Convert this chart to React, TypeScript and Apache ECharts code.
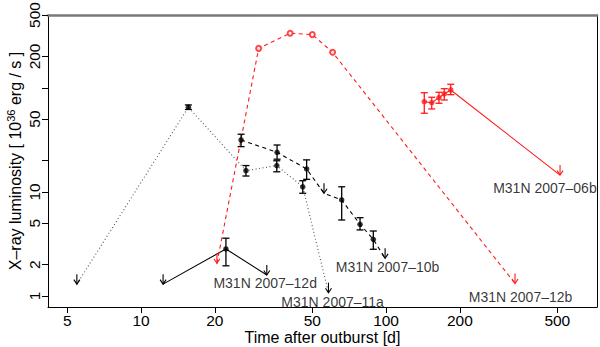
import React, { useEffect, useRef } from 'react';
import * as echarts from 'echarts';

// ---- axes ----
const xTickValues = [5, 10, 20, 50, 100, 200, 500];
const yTickValues = [1, 2, 5, 10, 20, 50, 100, 200, 500];
const yLabelValues = [1, 2, 5, 10, 50, 200, 500];
const xRange = [4.17, 726];
const yRange = [0.784, 500];

// ---- M31N 2007-11a (black, dotted) ----
const n11aT = [15.6, 26.8, 35.8, 45.7];
const n11aL = [65.0, 16.0, 17.9, 11.2];
const n11aLo = [61.9, 14.2, 15.6, 9.7];
const n11aHi = [68.4, 17.9, 19.9, 12.8];
const n11aUlT = [5.47, 58.2];
const n11aUlL = [1.3, 1.076];

// ---- M31N 2007-10b (black, dashed) ----
const n10bT = [25.6, 35.9, 47.4, 65.9, 78.3, 88.7];
const n10bL = [31.5, 24.0, 16.6, 8.36, 4.88, 3.5];
const n10bLo = [27.2, 20.6, 13.2, 5.37, 4.31, 2.81];
const n10bHi = [35.8, 28.2, 20.3, 11.2, 5.65, 4.21];
const n10bUlT = [55.8, 99.1];
const n10bUlL = [9.69, 2.3];

// ---- M31N 2007-12d (black, solid) ----
const n12dT = [22.2];
const n12dL = [2.83];
const n12dLo = [1.95];
const n12dHi = [3.59];
const n12dUlT = [12.3, 32.6];
const n12dUlL = [1.3, 1.59];

// ---- M31N 2007-12b (red, dashed, open circles) ----
const n12bT = [30.2, 40.6, 50.0, 60.5];
const n12bL = [239, 334, 324, 219];
const n12bUlT = [20.4, 336];
const n12bUlL = [2.06, 1.32];

// ---- M31N 2007-06b (red, solid) ----
const n06bT = [143.2, 153.6, 164.4, 172.8, 183.6];
const n06bL = [73.5, 71.9, 80.4, 87.2, 95.2];
const n06bLo = [56.9, 62.6, 71.0, 76.3, 85.9];
const n06bHi = [89.7, 81.1, 90.5, 98.0, 108.1];
const n06bUlT = [513];
const n06bUlL = [14.5];

// ---- annotation labels ----
const labelNames = ['M31N 2007–06b', 'M31N 2007–12b', 'M31N 2007–10b', 'M31N 2007–12d', 'M31N 2007–11a'];
const labelT = [445, 354, 101.4, 32.1, 60.5];
const labelL = [10.9, 0.978, 1.91, 1.32, 0.882];

const lg = (v: number) => Math.log10(v);
const FONT = "'Liberation Sans', Arial, Helvetica, sans-serif";
const RED = '#ff1a1a';
const BLACK = '#000000';
const TICK_FS = 15.5;
const TITLE_FS = 16;

function path(t: number[], l: number[], ut: number[], ul: number[]) {
  const pts: [number, number][] = [];
  t.forEach((v, i) => pts.push([v, l[i]]));
  ut.forEach((v, i) => pts.push([v, ul[i]]));
  pts.sort((a, b) => a[0] - b[0]);
  return pts.map(([a, b]) => [lg(a), lg(b)]);
}

function lineSeries(data: number[][], color: string, type: any) {
  return {
    type: 'line',
    data,
    symbol: 'none',
    lineStyle: { color, width: 1.1, type },
    z: 2,
    silent: true,
  };
}

function errSeries(t: number[], lo: number[], hi: number[], color: string) {
  return {
    type: 'custom',
    data: t.map((v, i) => [lg(v), lg(lo[i]), lg(hi[i])]),
    z: 3,
    silent: true,
    renderItem: (_p: any, api: any) => {
      const x = api.value(0);
      const a = api.coord([x, api.value(1)]);
      const b = api.coord([x, api.value(2)]);
      const w = 3.5;
      const st = { stroke: color, lineWidth: 1.3 };
      return {
        type: 'group',
        children: [
          { type: 'line', shape: { x1: a[0], y1: a[1], x2: b[0], y2: b[1] }, style: st },
          { type: 'line', shape: { x1: a[0] - w, y1: a[1], x2: a[0] + w, y2: a[1] }, style: st },
          { type: 'line', shape: { x1: b[0] - w, y1: b[1], x2: b[0] + w, y2: b[1] }, style: st },
        ],
      };
    },
  };
}

function arrowSeries(t: number[], l: number[], color: string) {
  return {
    type: 'custom',
    data: t.map((v, i) => [lg(v), lg(l[i])]),
    z: 3,
    silent: true,
    renderItem: (_p: any, api: any) => {
      const p = api.coord([api.value(0), api.value(1)]);
      const st = { stroke: color, lineWidth: 1.1, fill: 'none' };
      return {
        type: 'group',
        children: [
          { type: 'line', shape: { x1: p[0], y1: p[1] - 10, x2: p[0], y2: p[1] }, style: st },
          { type: 'polyline', shape: { points: [[p[0] - 3, p[1] - 4.5], [p[0], p[1]], [p[0] + 3, p[1] - 4.5]] }, style: st },
        ],
      };
    },
  };
}

function pointSeries(t: number[], l: number[], color: string, empty = false) {
  return {
    type: 'scatter',
    data: t.map((v, i) => [lg(v), lg(l[i])]),
    symbol: empty ? 'emptyCircle' : 'circle',
    symbolSize: empty ? 5 : 5.5,
    itemStyle: empty ? { color, borderColor: color, borderWidth: 1 } : { color },
    z: 4,
    silent: true,
  };
}

export default function App() {
  const ref = useRef<HTMLDivElement>(null);
  useEffect(() => {
    document.body.style.margin = '0';
    const chart = echarts.init(ref.current!, null, { renderer: 'svg' });
    const axisBase = {
      type: 'value',
      splitLine: { show: false },
    };
    chart.setOption({
      animation: false,
      backgroundColor: '#ffffff',
      textStyle: { fontFamily: FONT },
      grid: { left: 48, right: 3, top: 15, bottom: 40, containLabel: false, outerBoundsMode: 'none' },
      xAxis: [
        {
          ...axisBase,
          min: lg(xRange[0]),
          max: lg(xRange[1]),
          axisLine: { show: true, onZero: false, lineStyle: { color: BLACK, width: 1 } },
          axisTick: { show: true, length: 6, lineStyle: { color: BLACK }, customValues: xTickValues.map(lg) },
          axisLabel: {
            show: true,
            margin: 5,
            fontSize: TICK_FS,
            color: BLACK,
            fontFamily: FONT,
            customValues: xTickValues.map(lg),
            formatter: (v: number) => String(Math.round(Math.pow(10, v))),
          },
          name: 'Time after outburst [d]',
          nameLocation: 'middle',
          nameGap: 22,
          nameMoveOverlap: false,
          nameTextStyle: { fontSize: TITLE_FS, lineHeight: 16, color: BLACK, fontFamily: FONT },
        },
        {
          ...axisBase,
          position: 'top',
          min: lg(xRange[0]),
          max: lg(xRange[1]),
          axisLine: { show: true, onZero: false, lineStyle: { color: '#7a7a7a', width: 2.5 } },
          axisTick: { show: false },
          axisLabel: { show: false },
        },
      ],
      yAxis: [
        {
          ...axisBase,
          min: lg(yRange[0]),
          max: lg(yRange[1]),
          axisLine: { show: true, onZero: false, lineStyle: { color: BLACK, width: 1 } },
          axisTick: { show: true, length: 6, lineStyle: { color: BLACK }, customValues: yTickValues.map(lg) },
          axisLabel: {
            show: true,
            margin: 6,
            rotate: 90,
            fontSize: TICK_FS,
            color: BLACK,
            fontFamily: FONT,
            customValues: yLabelValues.map(lg),
            formatter: (v: number) => String(Math.round(Math.pow(10, v))),
          },
          name: '{n|X–ray luminosity [ 10}{sup|36}{n| erg / s ]}',
          nameLocation: 'middle',
          nameGap: 25,
          nameMoveOverlap: false,
          nameTextStyle: {
            fontSize: TITLE_FS,
            color: BLACK,
            fontFamily: FONT,
            rich: {
              n: { fontSize: TITLE_FS, fontFamily: FONT, color: BLACK, lineHeight: 18, verticalAlign: 'bottom' },
              sup: { fontSize: 11, fontFamily: FONT, color: BLACK, lineHeight: 18, verticalAlign: 'top' },
            },
          },
        },
        {
          ...axisBase,
          position: 'right',
          min: lg(yRange[0]),
          max: lg(yRange[1]),
          axisLine: { show: true, onZero: false, lineStyle: { color: BLACK, width: 1 } },
          axisTick: { show: false },
          axisLabel: { show: false },
        },
      ],
      series: [
        lineSeries(path(n11aT, n11aL, n11aUlT, n11aUlL), '#555', [1, 2.5]),
        lineSeries(path(n10bT, n10bL, n10bUlT, n10bUlL), BLACK, [4, 3.5]),
        lineSeries(path(n12dT, n12dL, n12dUlT, n12dUlL), BLACK, 'solid'),
        lineSeries(path(n12bT, n12bL, n12bUlT, n12bUlL), RED, [4, 3.5]),
        lineSeries(path(n06bT, n06bL, n06bUlT, n06bUlL), RED, 'solid'),
        errSeries(n11aT, n11aLo, n11aHi, BLACK),
        errSeries(n10bT, n10bLo, n10bHi, BLACK),
        errSeries(n12dT, n12dLo, n12dHi, BLACK),
        errSeries(n06bT, n06bLo, n06bHi, RED),
        arrowSeries(n11aUlT, n11aUlL, BLACK),
        arrowSeries(n10bUlT, n10bUlL, BLACK),
        arrowSeries(n12dUlT, n12dUlL, BLACK),
        arrowSeries(n12bUlT, n12bUlL, RED),
        arrowSeries(n06bUlT, n06bUlL, RED),
        pointSeries(n11aT, n11aL, BLACK),
        pointSeries(n10bT, n10bL, BLACK),
        pointSeries(n12dT, n12dL, BLACK),
        pointSeries(n12bT, n12bL, RED, true),
        pointSeries(n06bT, n06bL, RED),
        {
          type: 'scatter',
          data: labelNames.map((n, i) => ({ name: n, value: [lg(labelT[i]), lg(labelL[i])] })),
          symbolSize: 1,
          itemStyle: { color: 'transparent' },
          silent: true,
          z: 5,
          label: {
            show: true,
            position: 'inside',
            formatter: (p: any) => p.name,
            fontSize: 14,
            color: BLACK,
            fontFamily: FONT,
          },
        },
      ],
    });
    return () => chart.dispose();
  }, []);
  return <div ref={ref} style={{ width: 600, height: 347 }} />;
}
